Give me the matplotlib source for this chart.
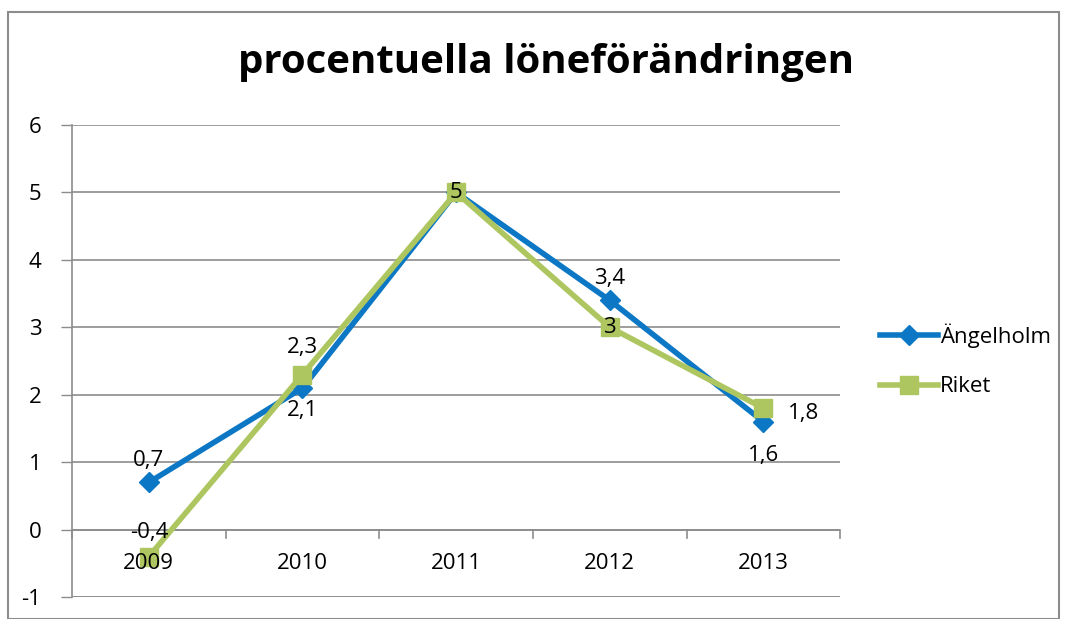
import matplotlib.pyplot as plt
from matplotlib.patches import Rectangle

years = ['2009', '2010', '2011', '2012', '2013']
angelholm = [0.7, 2.1, 5.0, 3.4, 1.6]
riket = [-0.4, 2.3, 5.0, 3.0, 1.8]
yticks = [-1, 0, 1, 2, 3, 4, 5, 6]

BLUE = '#0B77C5'
GREEN = '#ADC660'
GRAY = '#8C8C8C'
FONT = 'Open Sans'
FS = 16


def fmt(v):
    s = ('%g' % v).replace('.', ',')
    return s


fig = plt.figure(figsize=(10.67, 6.19), dpi=100)
ax = fig.add_axes([0.0675, 0.0355, 0.72, 0.7625])

x = list(range(len(years)))
ax.plot(x, angelholm, color=BLUE, lw=4, marker='D', ms=10, zorder=3, label='Ängelholm')
ax.plot(x, riket, color=GREEN, lw=4, marker='s', ms=13, zorder=4, label='Riket')

ax.set_xlim(-0.5, len(years) - 0.5)
ax.set_ylim(-1, 6)
ax.set_yticks(yticks)
ax.set_yticklabels([str(t) for t in yticks], fontsize=FS, family=FONT)
ax.tick_params(axis='y', length=8, width=1, color=GRAY, pad=14)
ax.set_xticks([])
ax.grid(axis='y', color=GRAY, lw=1.2)
ax.set_axisbelow(True)
for s in ['top', 'right', 'bottom']:
    ax.spines[s].set_visible(False)
ax.spines['left'].set_color(GRAY)
ax.spines['left'].set_linewidth(1.2)
ax.axhline(-1, color=GRAY, lw=1.2, zorder=1)

# horizontal axis crossing at 0 with tick marks between categories
ax.axhline(0, color=GRAY, lw=1.2, zorder=1)
for b in range(len(years) + 1):
    ax.plot([b - 0.5, b - 0.5], [0, -0.12], color=GRAY, lw=1.2, zorder=1, clip_on=False)
for i, y in enumerate(years):
    ax.text(i, -0.5, y, ha='center', va='center', fontsize=FS, family=FONT, zorder=5)

# data labels
lab_kw = dict(fontsize=FS, family=FONT, zorder=6, ha='center', va='center')
ang_off = [(0, 0.33), (0, -0.33), None, (0, 0.32), (0, -0.5)]
rik_off = [(0, 0.36), (0, 0.4), (0, 0), (0, 0), (0.26, -0.08)]
for i, (v, o) in enumerate(zip(angelholm, ang_off)):
    if o is not None:
        ax.text(i + o[0], v + o[1], fmt(v), **lab_kw)
for i, (v, o) in enumerate(zip(riket, rik_off)):
    ax.text(i + o[0], v + o[1], fmt(v), **lab_kw)

fig.suptitle('procentuella löneförändringen', x=0.512, y=0.93, fontsize=29,
             fontweight='bold', family=FONT)

fig.legend(loc='center left', bbox_to_anchor=(0.806, 0.418), frameon=False,
           prop={'family': FONT, 'size': FS}, handlelength=2.6, handletextpad=0.1,
           labelspacing=1.3)

fig.patches.append(Rectangle((8 / 1067, 0), 1 - 16 / 1067, 1 - 12 / 619,
                             transform=fig.transFigure, fill=False, ec=GRAY, lw=1.5))

fig.savefig('out.png', dpi=100)
